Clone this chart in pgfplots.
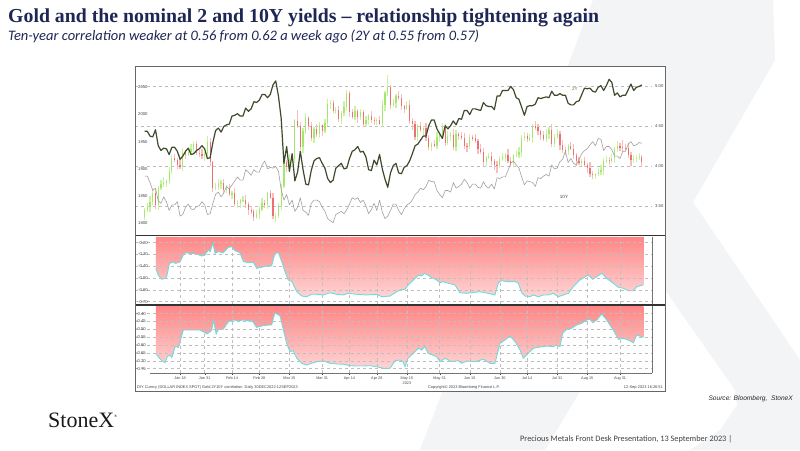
\documentclass[border=0pt]{standalone}
\usepackage{pgfplots}
\usepackage{pgfplotstable}
\pgfplotsset{compat=1.18}
\usepackage{fontspec}
\setmainfont{Liberation Sans}
\newfontfamily\titlefont{Liberation Serif}
\newfontfamily\carlito{Carlito}
\definecolor{navy}{RGB}{30,38,84}
\definecolor{wm}{RGB}{243,244,246}
\definecolor{upl}{RGB}{200,244,160}
\definecolor{upb}{RGB}{165,230,110}
\definecolor{dnl}{RGB}{250,188,188}
\definecolor{dnb}{RGB}{236,112,112}
\definecolor{twoy}{RGB}{62,74,44}
\definecolor{teny}{RGB}{165,160,155}
\definecolor{fillt}{RGB}{255,134,134}
\definecolor{fillb}{RGB}{255,212,212}
\definecolor{cyanl}{RGB}{105,222,225}
\definecolor{gridc}{RGB}{190,190,190}
\definecolor{lab}{RGB}{70,70,70}
\newcommand\cf{\fontsize{4.2}{5}\selectfont}

% gold OHLC, weekday index t (0 = 30 Dec 2022)
\pgfplotstableread{
t o h l c
0 1812 1829 1806 1824
1 1824 1838 1820 1830
2 1830 1850 1821 1839
3 1839 1865 1834 1855
5 1833 1868 1825 1865
6 1865 1879 1862 1872
7 1872 1885 1866 1876
8 1876 1882 1866 1877
9 1877 1903 1872 1897
10 1897 1925 1891 1920
14 1904 1938 1897 1932
16 1926 1938 1923 1931
17 1931 1945 1925 1936
18 1936 1951 1926 1946
22 1923 1932 1914 1928
23 1928 1960 1923 1950
26 1865 1874 1862 1867
27 1867 1882 1861 1873
28 1873 1880 1863 1875
30 1861 1870 1855 1865
32 1854 1859 1845 1855
34 1836 1843 1829 1837
35 1837 1845 1829 1842
36 1842 1850 1839 1843
41 1811 1825 1807 1817
42 1817 1831 1808 1827
43 1827 1847 1822 1837
45 1835 1858 1827 1855
48 1813 1819 1803 1814
49 1814 1837 1809 1831
50 1831 1873 1825 1868
51 1868 1921 1864 1913
53 1904 1928 1899 1918
54 1918 1925 1911 1919
55 1919 1992 1911 1989
58 1940 1975 1930 1970
59 1970 2003 1965 1993
62 1956 1977 1947 1973
64 1964 1986 1957 1980
66 1969 1991 1966 1984
67 1984 2029 1978 2020
68 2020 2026 2010 2021
70 2007 2013 2001 2008
72 1991 2007 1982 2003
73 2003 2024 1998 2014
74 2014 2046 2007 2040
77 1995 2015 1989 2006
79 1995 2010 1990 2004
81 1983 1997 1979 1989
82 1989 2001 1980 1997
85 1988 1993 1980 1990
87 1983 2026 1977 2017
88 2017 2044 2007 2039
89 2039 2072 2034 2050
91 2017 2029 2013 2021
92 2021 2038 2012 2034
96 2011 2024 2008 2017
100 1958 1983 1952 1978
102 1971 1979 1962 1975
105 1941 1949 1933 1946
107 1943 1968 1937 1959
108 1959 1968 1949 1963
109 1963 1984 1958 1978
111 1948 1969 1944 1961
112 1961 1967 1952 1963
114 1940 1971 1933 1965
119 1942 1964 1937 1958
125 1913 1924 1905 1921
126 1921 1930 1918 1923
130 1907 1924 1901 1919
131 1919 1929 1915 1921
132 1921 1930 1912 1926
135 1911 1928 1903 1925
136 1925 1933 1922 1926
137 1926 1941 1920 1932
138 1932 1962 1922 1957
139 1957 1967 1952 1961
141 1955 1964 1951 1956
142 1956 1982 1947 1978
147 1955 1974 1949 1965
148 1965 1977 1955 1972
150 1946 1964 1940 1959
151 1959 1973 1955 1965
155 1933 1946 1925 1943
160 1912 1919 1906 1914
165 1889 1893 1881 1890
166 1890 1901 1887 1894
167 1894 1907 1888 1898
168 1898 1920 1888 1915
169 1915 1923 1910 1917
171 1914 1928 1910 1920
172 1920 1941 1911 1937
173 1937 1952 1932 1942
179 1916 1925 1911 1919
180 1919 1925 1913 1920
181 1920 1930 1916 1922
}\goldup

\pgfplotstableread{
t o h l c
4 1855 1861 1826 1833
11 1920 1928 1912 1916
12 1916 1920 1899 1908
13 1908 1918 1899 1904
15 1932 1935 1918 1926
19 1946 1952 1925 1930
20 1930 1935 1922 1928
21 1928 1936 1919 1923
24 1950 1956 1905 1912
25 1912 1915 1857 1865
29 1875 1881 1856 1861
31 1865 1873 1850 1854
33 1855 1865 1831 1836
37 1843 1852 1829 1835
38 1835 1840 1815 1825
39 1825 1831 1817 1822
40 1822 1827 1805 1811
44 1837 1843 1828 1835
46 1855 1862 1844 1847
47 1847 1856 1807 1813
52 1913 1917 1895 1904
56 1989 2009 1975 1978
57 1978 1987 1934 1940
60 1993 1998 1972 1978
61 1978 1986 1952 1956
63 1973 1983 1959 1964
65 1980 1983 1961 1969
69 2021 2027 2002 2007
71 2008 2016 1987 1991
75 2040 2043 1996 2004
76 2004 2011 1992 1995
78 2006 2011 1985 1995
80 2004 2009 1977 1983
83 1997 2007 1985 1990
84 1990 1996 1981 1988
86 1990 1997 1980 1983
90 2050 2055 2011 2017
93 2034 2044 2026 2031
94 2031 2037 2008 2015
95 2015 2018 2003 2011
97 2017 2026 1983 1989
98 1989 1994 1972 1982
99 1982 1988 1953 1958
101 1978 1986 1967 1971
103 1975 1985 1952 1957
104 1957 1963 1934 1941
106 1946 1953 1940 1943
110 1978 1983 1942 1948
113 1963 1973 1935 1940
115 1965 1968 1953 1961
116 1961 1968 1954 1957
117 1957 1966 1937 1943
118 1943 1948 1932 1942
120 1958 1963 1951 1957
121 1957 1965 1947 1951
122 1951 1955 1927 1936
123 1936 1946 1927 1932
124 1932 1938 1906 1913
127 1923 1932 1908 1914
128 1914 1919 1898 1908
129 1908 1914 1893 1907
133 1926 1936 1910 1915
134 1915 1921 1904 1911
140 1961 1966 1949 1955
143 1978 1988 1972 1977
144 1977 1983 1962 1969
145 1969 1972 1954 1962
146 1962 1969 1952 1955
149 1972 1982 1941 1946
152 1965 1969 1935 1944
153 1944 1954 1929 1934
154 1934 1940 1926 1933
156 1943 1950 1934 1937
157 1937 1946 1919 1925
158 1925 1930 1905 1915
159 1915 1921 1907 1912
161 1914 1922 1903 1907
162 1907 1911 1893 1902
163 1902 1912 1886 1891
164 1891 1897 1882 1889
170 1917 1922 1908 1914
174 1942 1948 1933 1940
175 1940 1953 1931 1939
176 1939 1945 1935 1938
177 1938 1947 1920 1926
178 1926 1931 1906 1916
182 1922 1926 1904 1913
}\golddown

\pgfplotstableread{
t y2 y10
0 4.43 3.87
1 4.43 3.87
2 4.37 3.79
3 4.36 3.69
4 4.45 3.72
5 4.25 3.56
6 4.19 3.53
7 4.22 3.61
8 4.21 3.55
9 4.14 3.44
10 4.23 3.51
11 4.23 3.51
12 4.18 3.55
13 4.08 3.37
14 4.12 3.39
15 4.18 3.48
16 4.22 3.52
17 4.14 3.46
18 4.15 3.45
19 4.19 3.49
20 4.21 3.50
21 4.25 3.55
22 4.21 3.51
23 4.09 3.39
24 4.10 3.40
25 4.29 3.53
26 4.44 3.64
27 4.47 3.67
28 4.42 3.61
29 4.49 3.66
30 4.51 3.74
31 4.52 3.71
32 4.62 3.76
33 4.63 3.81
34 4.65 3.86
35 4.62 3.82
36 4.62 3.82
37 4.72 3.95
38 4.68 3.92
39 4.71 3.88
40 4.80 3.95
41 4.79 3.92
42 4.82 3.92
43 4.89 4.01
44 4.89 4.06
45 4.85 3.96
46 4.89 3.98
47 5.01 3.97
48 5.06 3.99
49 4.87 3.93
50 4.59 3.70
51 4.03 3.57
52 4.24 3.64
53 3.93 3.51
54 4.15 3.57
55 3.81 3.43
56 3.92 3.48
57 4.18 3.60
58 3.95 3.44
59 3.77 3.42
60 3.76 3.38
61 3.94 3.53
62 4.06 3.57
63 4.09 3.57
64 4.10 3.55
65 4.03 3.48
66 3.97 3.43
67 3.84 3.34
68 3.79 3.31
69 3.82 3.29
70 3.97 3.39
71 4.00 3.41
72 4.03 3.43
73 3.96 3.40
74 3.97 3.45
75 4.09 3.52
76 4.18 3.60
77 4.20 3.58
78 4.24 3.60
79 4.17 3.54
80 4.18 3.57
81 4.11 3.50
82 3.95 3.40
83 3.94 3.45
84 4.07 3.53
85 4.01 3.44
86 4.14 3.57
87 3.96 3.42
88 3.83 3.34
89 3.73 3.37
90 3.91 3.44
91 4.00 3.52
92 4.03 3.52
93 3.91 3.44
94 3.90 3.39
95 3.98 3.46
96 4.00 3.51
97 4.06 3.53
98 4.15 3.57
99 4.25 3.64
100 4.27 3.67
101 4.32 3.72
102 4.37 3.70
103 4.37 3.74
104 4.50 3.82
105 4.57 3.80
106 4.57 3.80
107 4.46 3.69
108 4.40 3.64
109 4.34 3.60
110 4.50 3.69
111 4.46 3.69
112 4.50 3.67
113 4.56 3.79
114 4.51 3.72
115 4.59 3.74
116 4.58 3.77
117 4.69 3.83
118 4.69 3.79
119 4.64 3.72
120 4.71 3.77
121 4.71 3.77
122 4.70 3.73
123 4.69 3.72
124 4.79 3.80
125 4.75 3.74
126 4.74 3.72
127 4.74 3.77
128 4.70 3.71
129 4.87 3.85
130 4.87 3.84
131 4.94 3.86
132 4.94 3.86
133 4.94 3.94
134 4.99 4.03
135 4.95 4.06
136 4.85 4.01
137 4.83 3.97
138 4.73 3.86
139 4.63 3.76
140 4.74 3.81
141 4.75 3.80
142 4.75 3.79
143 4.77 3.74
144 4.85 3.85
145 4.84 3.84
146 4.85 3.87
147 4.86 3.89
148 4.85 3.87
149 4.93 4.01
150 4.88 3.96
151 4.88 3.97
152 4.90 4.05
153 4.88 4.08
154 4.88 4.18
155 4.78 4.04
156 4.76 4.09
157 4.76 4.03
158 4.80 4.01
159 4.81 4.08
160 4.89 4.15
161 4.97 4.19
162 4.96 4.21
163 4.97 4.26
164 4.93 4.30
165 4.92 4.25
166 4.98 4.34
167 5.00 4.33
168 4.94 4.19
169 5.00 4.24
170 5.08 4.24
171 5.04 4.20
172 4.88 4.12
173 4.91 4.12
174 4.86 4.09
175 4.88 4.18
176 4.88 4.18
177 4.95 4.27
178 5.02 4.30
179 4.94 4.25
180 4.98 4.26
181 4.99 4.29
182 5.01 4.28
}\yields

\pgfplotstableread{
t v
4.1 -0.1517
4.1 -0.417
5.0 -0.474
6.3 -0.510
7.5 -0.502
8.1 -0.488
9.1 -0.375
10.0 -0.369
10.5 -0.361
11.2 -0.375
12.4 -0.369
13.0 -0.361
14.2 -0.304
14.8 -0.285
16.6 -0.290
19.1 -0.296
20.9 -0.313
22.1 -0.304
23.3 -0.262
24.0 -0.276
25.0 -0.205
25.8 -0.290
27.0 -0.276
28.8 -0.285
30.7 -0.239
31.9 -0.234
33.1 -0.268
34.9 -0.285
36.2 -0.361
38.0 -0.369
39.8 -0.366
41.0 -0.417
42.9 -0.408
44.7 -0.397
46.5 -0.397
47.7 -0.290
49.0 -0.285
50.2 -0.361
51.4 -0.446
52.6 -0.516
53.9 -0.530
55.7 -0.615
57.5 -0.652
59.3 -0.658
61.2 -0.637
63.0 -0.637
65.4 -0.643
67.9 -0.624
70.3 -0.637
72.7 -0.643
74.6 -0.629
77.6 -0.637
81.3 -0.643
85.0 -0.637
86.8 -0.658
89.8 -0.652
92.3 -0.615
93.5 -0.601
95.3 -0.595
96.5 -0.558
98.4 -0.516
100.2 -0.474
101.4 -0.482
102.6 -0.459
104.5 -0.488
106.9 -0.516
108.1 -0.539
109.3 -0.530
111.2 -0.544
113.6 -0.558
115.4 -0.624
117.9 -0.629
119.7 -0.624
122.7 -0.615
125.8 -0.629
128.2 -0.643
129.5 -0.539
130.7 -0.522
132.5 -0.530
135.6 -0.530
136.8 -0.544
138.0 -0.624
139.2 -0.652
141.0 -0.658
142.3 -0.643
144.1 -0.658
145.9 -0.643
147.7 -0.643
149.6 -0.629
151.4 -0.658
153.2 -0.643
155.1 -0.629
156.9 -0.573
159.3 -0.516
162.4 -0.474
164.0 -0.510
165.5 -0.488
167.3 -0.459
169.1 -0.502
171.5 -0.544
173.4 -0.578
175.2 -0.586
177.0 -0.607
178.9 -0.607
180.1 -0.573
182.5 -0.558
182.5 -0.1517
}\corrA

\pgfplotstableread{
t v
4.1 -0.351
4.1 -0.652
5.0 -0.674
6.3 -0.699
7.5 -0.712
8.3 -0.674
9.1 -0.663
10.0 -0.678
11.2 -0.610
12.4 -0.614
14.2 -0.504
15.4 -0.504
17.9 -0.504
20.3 -0.504
21.5 -0.515
22.8 -0.529
24.0 -0.515
24.6 -0.504
25.2 -0.440
26.2 -0.529
27.0 -0.499
28.8 -0.499
30.7 -0.451
32.5 -0.440
34.3 -0.445
36.2 -0.440
38.0 -0.446
39.2 -0.440
41.0 -0.487
42.9 -0.478
45.3 -0.472
46.5 -0.472
47.7 -0.394
49.6 -0.415
50.8 -0.504
52.0 -0.589
53.2 -0.642
54.4 -0.636
55.7 -0.684
57.5 -0.716
59.3 -0.727
61.2 -0.716
63.0 -0.706
65.4 -0.701
67.9 -0.716
70.3 -0.720
72.7 -0.722
75.1 -0.731
77.6 -0.733
80.1 -0.733
82.5 -0.731
85.0 -0.738
87.4 -0.748
89.8 -0.748
91.7 -0.699
93.5 -0.695
94.6 -0.706
95.3 -0.738
96.4 -0.684
98.4 -0.652
100.2 -0.620
101.4 -0.631
102.6 -0.610
103.7 -0.652
106.9 -0.674
108.1 -0.706
110.0 -0.684
112.4 -0.706
114.8 -0.699
116.1 -0.716
117.9 -0.701
120.9 -0.706
124.0 -0.690
126.4 -0.716
128.2 -0.716
130.1 -0.589
131.9 -0.568
133.7 -0.542
135.6 -0.578
137.4 -0.631
138.6 -0.684
140.4 -0.652
142.3 -0.620
144.1 -0.614
147.2 -0.606
149.6 -0.610
150.8 -0.599
152.0 -0.610
153.0 -0.525
154.5 -0.499
156.3 -0.493
158.1 -0.472
160.0 -0.461
161.8 -0.440
163.0 -0.436
164.0 -0.457
165.5 -0.440
167.3 -0.402
169.1 -0.440
171.5 -0.504
173.4 -0.563
175.2 -0.557
177.0 -0.568
178.9 -0.585
180.1 -0.536
182.5 -0.550
182.5 -0.351
}\corrB

\pgfplotsset{
  bbg/.style={scale only axis, width=517pt, xmin=-3.5, xmax=185.7,
    anchor=south west, major tick length=0pt,
    tick label style={font=\cf, text=lab},
    yticklabel style={anchor=west, inner sep=0pt, xshift=3pt},
    axis line style={draw=none}},
}

\begin{document}
\begin{tikzpicture}[x=1pt,y=1pt]
\useasboundingbox (0,0) rectangle (800,450);
\fill[white] (0,0) rectangle (800,450);
% watermark X
\fill[wm] (593,450) -- (773,450) -- (775,390) -- (693,248) -- (545,0) -- (420,0) -- cycle;
\fill[wm] (693,248) -- (800,90) -- (800,0) -- (690,0) -- (720,20) -- (737,45) -- (735,60) -- (665,160) -- (640,200) -- cycle;
% chart background
\fill[white] (135,59) rectangle (665,384);

% ---------- price panel ----------
\begin{axis}[bbg, at={(135pt,215pt)}, height=169pt,
  ymin=1778.5, ymax=2089.2, xtick=\empty,
  ytick={1800,1850,1900,1950,2000,2050},
  yticklabels={1800,1850,1900,1950,2000,2050},
  extra y ticks={1832.35,1905.88,1979.4,2052.9},
  extra y tick labels={},
  extra y tick style={grid=major, grid style={dashed, gridc, line width=0.4pt}}]
\addplot[draw=none, mark=none, forget plot, error bars/.cd, y dir=both, y explicit,
  error mark=none, error bar style={draw=upl, line width=1.2pt}]
  table[x=t, y expr={(\thisrow{h}+\thisrow{l})/2}, y error expr={(\thisrow{h}-\thisrow{l})/2}] {\goldup};
\addplot[draw=none, mark=none, forget plot, error bars/.cd, y dir=both, y explicit,
  error mark=none, error bar style={draw=upb, line width=1.2pt}]
  table[x=t, y expr={(\thisrow{o}+\thisrow{c})/2}, y error expr={(\thisrow{c}-\thisrow{o})/2}] {\goldup};
\addplot[draw=none, mark=none, forget plot, error bars/.cd, y dir=both, y explicit,
  error mark=none, error bar style={draw=dnl, line width=1.2pt}]
  table[x=t, y expr={(\thisrow{h}+\thisrow{l})/2}, y error expr={(\thisrow{h}-\thisrow{l})/2}] {\golddown};
\addplot[draw=none, mark=none, forget plot, error bars/.cd, y dir=both, y explicit,
  error mark=none, error bar style={draw=dnb, line width=1.2pt}]
  table[x=t, y expr={(\thisrow{o}+\thisrow{c})/2}, y error expr={(\thisrow{o}-\thisrow{c})/2}] {\golddown};
\end{axis}

\begin{axis}[bbg, at={(135pt,215pt)}, height=169pt,
  ymin=3.134, ymax=5.246, xtick=\empty,
  ytick={3.5,4,4.5,5}, yticklabels={3.50,4.00,4.50,5.00},
  yticklabel pos=right]
\addplot[teny, line width=0.6pt, line join=round] table[x=t, y=y10] {\yields};
\addplot[twoy, line width=1.2pt, line join=round] table[x=t, y=y2] {\yields};
\node[font=\fontsize{4.6}{5}\selectfont, text=twoy!80] at (axis cs:157.5,4.96) {2Y};
\node[font=\fontsize{4.6}{5}\selectfont, text=lab] at (axis cs:153.5,3.61) {10Y};
\end{axis}

% ---------- correlation panel 1 ----------
\begin{axis}[bbg, at={(135pt,146pt)}, height=67pt,
  ymin=-0.7195, ymax=-0.1517, axis on top,
  xtick={13,22,32,42,53,65,75,85,96,108,119,130,140,151,162,174}, xticklabels={},
  ytick={-0.7,-0.6,-0.5,-0.4,-0.3,-0.2},
  yticklabels={-0.70,-0.60,-0.50,-0.40,-0.30,-0.20},
  grid=major, grid style={dashed, gridc, line width=0.4pt}]
\addplot[draw=none, top color=fillt, bottom color=fillb] table[x=t, y=v] {\corrA};
\addplot[cyanl, line width=0.9pt, restrict y to domain=-1:-0.16] table[x=t, y=v] {\corrA};
\end{axis}

% ---------- correlation panel 2 ----------
\begin{axis}[bbg, at={(135pt,77pt)}, height=67pt,
  ymin=-0.7777, ymax=-0.351, axis on top,
  major tick length=2pt,
  xtick={13,22,32,42,53,65,75,85,96,108,119,130,140,151,162,174},
  xticklabels={Jan 18,Jan 31,Feb 14,Feb 28,Mar 15,Mar 31,Apr 14,Apr 28,{May 15\\2023},May 31,Jun 15,Jun 30,Jul 14,Jul 31,Aug 15,Aug 31},
  xticklabel style={align=center, inner sep=0pt, yshift=-2pt, font=\fontsize{3.8}{4.6}\selectfont},
  xtick pos=bottom, tick align=outside,
  xtick style={draw=lab},
  ytick style={draw=none},
  ytick={-0.75,-0.7,-0.65,-0.6,-0.55,-0.5,-0.45,-0.4},
  yticklabels={-0.75,-0.70,-0.65,-0.60,-0.55,-0.50,-0.45,-0.40},
  grid=major, grid style={dashed, gridc, line width=0.4pt}]
\addplot[draw=none, top color=fillt, bottom color=fillb] table[x=t, y=v] {\corrB};
\addplot[cyanl, line width=0.9pt, restrict y to domain=-1:-0.36] table[x=t, y=v] {\corrB};
\end{axis}

% frames and separators
\draw[black!55, line width=0.5pt] (652,77) -- (652,213);
\draw[black!55, line width=0.5pt] (150,77) -- (652,77);
\draw[black!80, line width=1.6pt] (135,214.5) -- (665,214.5);
\draw[black!80, line width=1.6pt] (135,145.2) -- (665,145.2);
\draw[black!60, line width=0.9pt] (135,59) rectangle (665,384);

% chart footer
\node[anchor=west, inner sep=0, text=lab, font=\fontsize{3.9}{4.5}\selectfont] at (137,62.5)
  {DIY Curncy (DOLLAR INDEX SPOT) Gold 2Y10Y correlation\ \ Daily 30DEC2022-12SEP2023};
\node[inner sep=0, text=lab, font=\fontsize{3.9}{4.5}\selectfont] at (464,62.5)
  {Copyright\textcopyright{} 2023 Bloomberg Finance L.P.};
\node[anchor=east, inner sep=0, text=lab, font=\fontsize{3.9}{4.5}\selectfont] at (663,62.5)
  {12-Sep-2023 16:26:51};

% titles
\node[anchor=base west, inner sep=0, text=navy] at (8,427)
  {\titlefont\bfseries\fontsize{19.8}{22}\selectfont Gold and the nominal 2 and 10Y yields – relationship tightening again};
\node[anchor=base west, inner sep=0, text=navy] at (8,409)
  {\carlito\itshape\fontsize{14.5}{16}\selectfont Ten-year correlation weaker at 0.56 from 0.62 a week ago (2Y at 0.55 from 0.57)};
\node[anchor=base east, inner sep=0, text=black!85] at (793,50)
  {\itshape\fontsize{6.6}{8}\selectfont Source: Bloomberg,\ \ StoneX};
\node[anchor=base west, inner sep=0, text=black!90] at (48,23)
  {\titlefont\fontsize{22}{24}\selectfont StoneX\raisebox{10pt}{\fontsize{4}{4}\selectfont\textregistered}};
\node[anchor=base west, inner sep=0, text=black!75] at (520,9)
  {\carlito\fontsize{8.3}{10}\selectfont Precious Metals Front Desk Presentation, 13 September 2023 |};
\end{tikzpicture}
\end{document}
